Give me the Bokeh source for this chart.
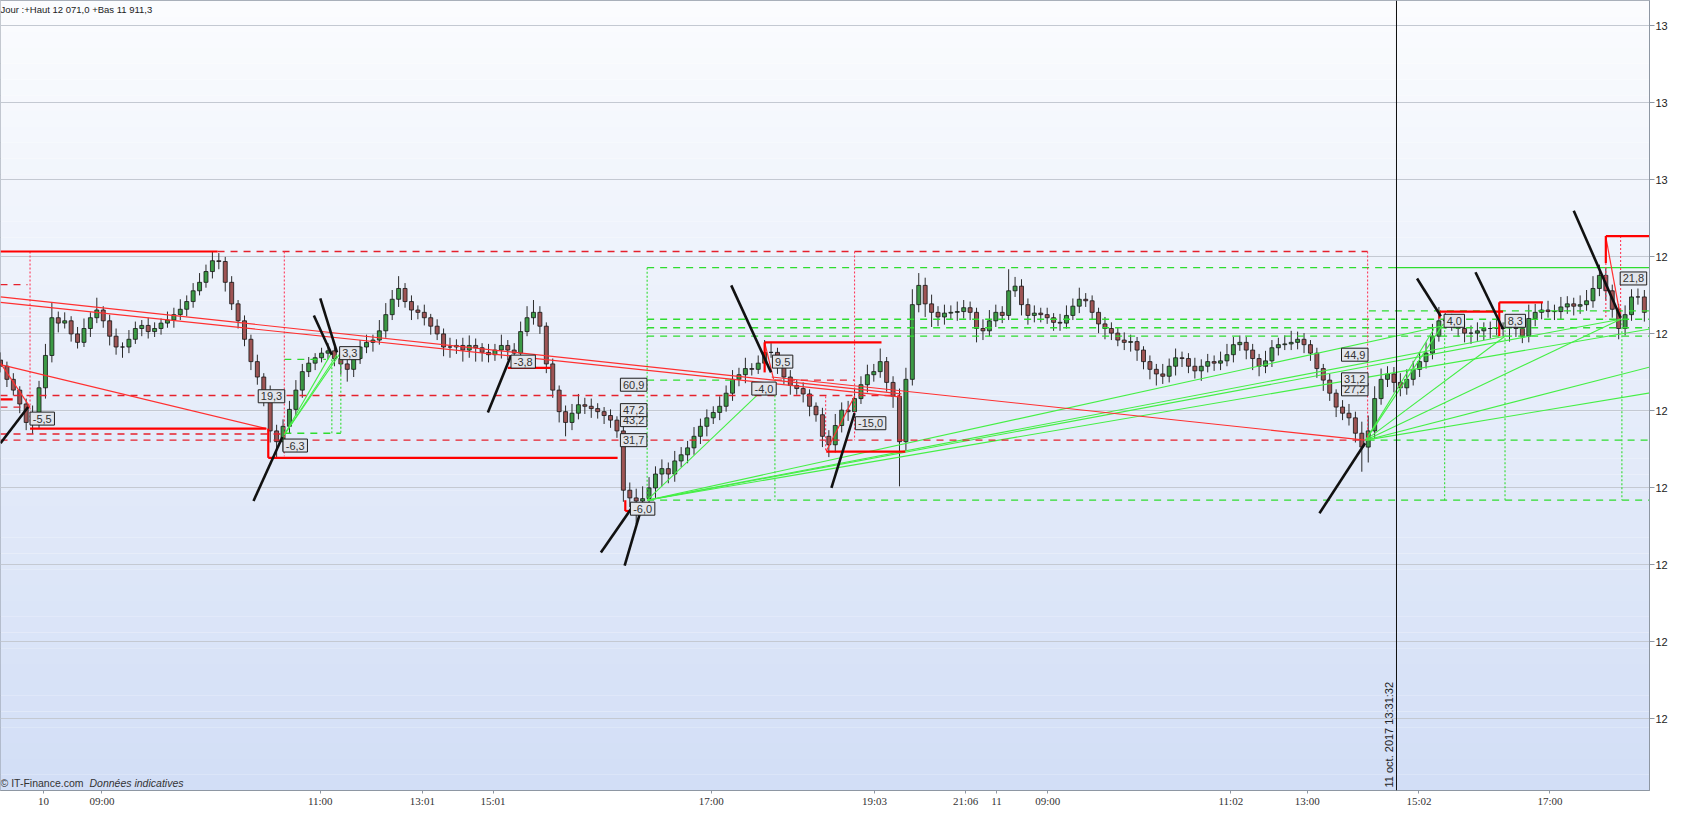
import math
from bokeh.plotting import figure
from bokeh.models import Range1d, FixedTicker, Label, Span
from bokeh.core.properties import value
from bokeh.embed import file_html
from bokeh.resources import INLINE

# ---------------- data ----------------
first_open = 12976.6
close = [
 12975.8, 12974.1, 12972.7, 12970.9, 12968.5, 12969.5, 12973.0, 12977.2, 12982.1, 12981.4,
 12981.7, 12980.0, 12978.9, 12980.7, 12982.1, 12983.1, 12981.7, 12979.7, 12978.3, 12978.3,
 12979.3, 12980.7, 12981.1, 12980.3, 12980.7, 12981.4, 12981.8, 12982.5, 12983.2, 12984.2,
 12985.6, 12986.7, 12988.1, 12989.5, 12989.4, 12986.7, 12983.9, 12981.7, 12979.3, 12976.4,
 12974.4, 12971.9, 12967.4, 12966.0, 12968.0, 12970.2, 12972.7, 12975.1, 12976.2, 12976.9,
 12977.5, 12977.8, 12976.8, 12976.1, 12975.4, 12976.8, 12978.3, 12978.9, 12979.2, 12980.4,
 12982.5, 12984.5, 12985.9, 12984.2, 12983.1, 12982.8, 12982.1, 12981.0, 12980.0, 12978.3,
 12978.3, 12978.5, 12977.9, 12978.5, 12978.2, 12977.6, 12977.3, 12977.9, 12978.5, 12977.9,
 12977.5, 12980.3, 12982.1, 12982.8, 12981.0, 12976.1, 12972.7, 12969.9, 12968.5, 12969.7,
 12970.8, 12970.6, 12970.3, 12969.9, 12969.4, 12968.8, 12967.4, 12959.7, 12958.7, 12958.3,
 12958.6, 12960.0, 12961.8, 12962.5, 12961.8, 12963.5, 12964.3, 12965.2, 12966.7, 12968.0,
 12969.1, 12969.8, 12970.6, 12972.3, 12974.1, 12974.7, 12975.5, 12975.4, 12976.2, 12977.6,
 12977.6, 12975.8, 12974.4, 12973.3, 12972.9, 12972.2, 12970.6, 12969.5, 12966.7, 12965.6,
 12968.1, 12970.1, 12969.9, 12971.6, 12973.4, 12974.7, 12975.1, 12976.4, 12973.7, 12971.9,
 12966.0, 12974.1, 12983.8, 12986.3, 12983.9, 12982.8, 12982.2, 12982.7, 12982.8, 12982.9,
 12983.4, 12982.8, 12980.7, 12980.4, 12981.7, 12982.8, 12982.4, 12985.6, 12986.2, 12983.8,
 12982.4, 12982.7, 12982.5, 12982.1, 12981.5, 12981.4, 12982.4, 12983.6, 12984.5, 12984.3,
 12982.8, 12981.3, 12980.7, 12980.1, 12979.2, 12978.9, 12979.0, 12977.9, 12976.4, 12975.4,
 12974.8, 12974.5, 12975.8, 12976.9, 12976.8, 12975.8, 12975.2, 12975.8, 12976.4, 12976.2,
 12976.5, 12977.3, 12978.6, 12978.9, 12977.9, 12976.8, 12975.8, 12976.5, 12978.2, 12978.6,
 12978.7, 12978.9, 12979.3, 12978.6, 12977.5, 12975.5, 12974.0, 12972.3, 12970.5, 12969.7,
 12969.1, 12967.1, 12965.3, 12967.4, 12971.6, 12974.1, 12974.8, 12973.7, 12973.0, 12974.1,
 12975.4, 12976.4, 12977.5, 12979.7, 12981.7, 12981.8, 12981.3, 12980.7, 12980.1, 12980.1,
 12980.4, 12980.7, 12980.7, 12980.7, 12980.8, 12981.0, 12980.7, 12979.7, 12982.0, 12982.8,
 12983.1, 12982.9, 12982.9, 12983.5, 12983.9, 12983.6, 12983.8, 12984.3, 12985.9, 12987.6,
 12985.6, 12983.2, 12980.7, 12982.5, 12984.8, 12984.8, 12982.8,
]
wick_up = [
 1.0, 0.6, 0.8, 0.5, 0.7, 1.2, 0.9, 1.5, 2.0, 0.8,  1.1, 0.6, 0.9, 1.3, 0.7, 1.6, 0.5, 0.8, 1.0, 0.6,
 1.2, 0.9, 0.7, 1.0, 0.8, 0.6, 1.1, 0.9, 1.3, 0.8,  1.0, 1.2, 0.9, 1.2, 1.0, 0.6, 0.8, 0.5, 0.7, 0.6,
 0.9, 0.5, 1.4, 0.8, 0.9, 1.1, 1.3, 1.0, 0.8, 0.6,  0.7, 1.0, 0.5, 0.8, 0.6, 1.2, 0.9, 1.0, 0.7, 1.4,
 1.5, 1.2, 1.6, 0.7, 0.8, 0.6, 1.0, 0.5, 0.9, 0.7,  1.2, 0.8, 1.0, 1.3, 0.9, 0.6, 1.1, 0.8, 1.4, 0.7,
 0.9, 1.3, 1.5, 1.6, 0.8, 0.5, 0.7, 0.6, 0.8, 1.2,  1.4, 0.9, 1.0, 0.7, 0.6, 0.8, 0.5, 0.9, 1.0, 1.2,
 1.6, 1.4, 1.0, 1.2, 0.8, 1.3, 1.0, 0.9, 1.2, 1.0,  1.1, 0.8, 1.3, 1.0, 1.2, 0.9, 1.4, 0.7, 1.0, 1.6,
 1.2, 0.6, 0.8, 0.9, 0.7, 0.8, 0.6, 0.5, 0.9, 0.8,  1.5, 1.0, 1.2, 1.4, 1.1, 1.3, 1.0, 1.7, 0.6, 0.8,
 1.0, 1.5, 2.0, 1.6, 1.0, 1.2, 0.8, 1.1, 0.9, 1.3,  1.0, 0.8, 0.6, 1.2, 1.4, 1.0, 0.8, 2.8, 1.2, 0.9,
 0.8, 1.0, 0.7, 0.9, 0.6, 1.1, 1.3, 1.0, 1.5, 0.8,  0.7, 0.6, 0.9, 0.8, 0.7, 1.0, 0.9, 0.6, 0.5, 0.8,
 0.7, 1.3, 1.0, 1.2, 0.8, 0.7, 1.1, 0.9, 1.0, 0.8,  1.2, 1.4, 1.0, 0.9, 0.7, 0.8, 0.6, 1.3, 1.0, 0.9,
 1.1, 1.5, 1.0, 0.8, 0.6, 0.7, 0.6, 0.8, 0.5, 0.9,  1.2, 0.8, 1.5, 2.0, 1.6, 1.4, 1.0, 0.9, 1.2, 1.3,
 1.1, 1.2, 1.4, 1.6, 1.8, 0.9, 0.8, 0.7, 0.9, 1.0,  1.1, 0.8, 0.9, 1.2, 0.7, 1.3, 0.8, 0.9, 1.8, 1.1,
 1.0, 1.2, 0.9, 1.3, 1.0, 0.8, 1.2, 1.4, 1.6, 1.4,  1.0, 0.8, 0.7, 1.2, 1.0, 1.1, 0.9,
]
wick_dn = [
 0.8, 1.0, 0.7, 1.2, 1.0, 1.5, 1.8, 1.4, 0.9, 1.2,  0.7, 1.0, 0.8, 0.6, 1.1, 0.7, 0.9, 1.2, 1.0, 1.4,
 0.8, 0.6, 1.0, 0.9, 0.7, 0.8, 0.6, 1.0, 0.7, 0.9,  0.8, 0.6, 0.7, 0.9, 1.0, 1.2, 0.8, 1.0, 0.9, 1.1,
 1.0, 1.3, 1.5, 2.2, 1.2, 0.9, 0.8, 1.0, 0.7, 0.9,  0.6, 0.8, 1.0, 1.4, 1.6, 1.0, 0.7, 0.8, 1.2, 0.6,
 0.9, 0.7, 1.0, 0.8, 1.3, 0.9, 1.0, 1.1, 0.8, 1.2,  1.4, 0.9, 1.5, 1.0, 1.8, 1.2, 1.0, 0.8, 1.1, 1.3,
 1.5, 0.8, 0.6, 0.9, 1.0, 1.2, 1.0, 1.4, 1.8, 1.0,  0.8, 1.0, 1.2, 0.9, 1.1, 1.0, 0.9, 1.5, 1.2, 3.0,
 1.5, 1.0, 1.3, 1.6, 1.2, 1.0, 0.8, 1.1, 0.9, 1.0,  1.3, 0.8, 1.0, 0.7, 1.0, 0.9, 1.1, 0.8, 0.6, 0.9,
 0.7, 1.0, 0.9, 1.2, 0.8, 1.1, 1.3, 0.9, 1.4, 1.6,  1.0, 0.9, 1.2, 0.8, 0.7, 1.0, 0.9, 0.8, 1.2, 1.5,
 5.8, 1.2, 0.8, 1.0, 1.7, 1.9, 1.2, 1.0, 0.8, 1.1,  0.9, 1.0, 1.8, 1.2, 0.7, 0.8, 1.0, 0.6, 0.8, 1.4,
 1.2, 0.9, 1.0, 0.8, 1.1, 1.0, 0.7, 0.6, 0.9, 0.8,  1.0, 1.2, 1.4, 0.9, 0.8, 1.0, 1.2, 1.4, 1.0, 1.3,
 1.5, 1.0, 0.8, 1.2, 1.1, 0.9, 1.0, 1.3, 0.8, 1.0,  0.9, 0.7, 1.0, 0.8, 1.2, 1.5, 1.3, 0.9, 0.8, 1.0,
 0.7, 0.8, 0.9, 1.1, 1.0, 1.2, 1.4, 1.0, 1.3, 0.9,  1.0, 1.2, 3.2, 2.0, 1.0, 0.8, 1.0, 1.3, 1.1, 0.9,
 0.8, 1.0, 0.9, 0.8, 0.7, 1.0, 0.9, 1.1, 1.2, 1.4,  1.0, 1.2, 1.3, 0.9, 1.0, 1.8, 1.1, 0.9, 0.8, 1.0,
 0.9, 0.8, 1.1, 1.0, 0.9, 1.2, 1.0, 0.8, 0.9, 1.0,  1.3, 1.1, 1.4, 0.9, 0.8, 1.0, 1.2,
]

x_tick_pos = [6.7, 15.8, 49.8, 65.7, 76.7, 110.7, 136.1, 150.3, 155.1, 163.1, 191.6, 203.5, 220.9, 241.3]
x_tick_labels = ["10", "09:00", "11:00", "13:01", "15:01", "17:00", "19:03", "21:06", "11",
                 "09:00", "11:02", "13:00", "15:02", "17:00"]
y_tick_vals = [12930, 12940, 12950, 12960, 12970, 12980, 12990, 13000, 13010, 13020]
y_tick_labels = ["12", "12", "12", "12", "12", "12", "12", "13", "13", "13"]

header_text = "Jour :+Haut 12 071,0 +Bas 11 911,3"
copyright_text = "© IT-Finance.com"
disclaimer_text = "Données indicatives"
cursor_bar = 217.4
cursor_text = "11 oct. 2017 13:31:32"

# drawing-tool objects (bar index, price)
red_thick = [
 (0, 12990.7, 33.8, 12990.7), (0, 12971.5, 1.9, 12971.5), (4.6, 12967.7, 41.4, 12967.7),
 (41.7, 12963.9, 96.1, 12963.9), (41.7, 12967.7, 41.7, 12963.9), (79.0, 12975.6, 85.7, 12975.6),
 (97.3, 12957.0, 100.0, 12957.0), (97.3, 12958.4, 97.3, 12957.0), (119.0, 12978.9, 137.2, 12978.9),
 (119.0, 12978.9, 119.0, 12975.0), (128.6, 12964.7, 140.9, 12964.7), (250.0, 12992.7, 258.7, 12992.7),
 (250.0, 12992.7, 250.0, 12989.2), (224.1, 12982.9, 234.0, 12982.9), (224.1, 12982.9, 224.1, 12982.0),
 (233.4, 12984.1, 240.2, 12984.1), (233.4, 12984.1, 233.4, 12979.7),
]
red_thin = [
 (0, 12984.8, 140.3, 12972.2), (0, 12984.1, 140.3, 12971.8), (0, 12976.0, 41.4, 12967.7),
 (0, 12976.2, 4.6, 12970.5), (120.1, 12974.4, 212.5, 12966.2), (119.0, 12978.9, 120.4, 12974.1),
 (128.6, 12964.8, 133.0, 12971.9), (250.0, 12992.6, 252.3, 12982.1),
]
red_dash = [
 (33.8, 12990.7, 212.9, 12990.7), (0, 12986.4, 4.2, 12986.4), (0, 12972.0, 140.0, 12972.0),
 (0, 12967.0, 44.2, 12967.0), (0, 12966.2, 212.6, 12966.2), (0, 12970.5, 4.6, 12970.5),
 (120.6, 12974.0, 133.0, 12974.0),
]
red_dot = [
 (4.6, 12990.7, 4.6, 12968.3), (44.2, 12990.7, 44.2, 12964.1), (133.0, 12990.7, 133.0, 12966.2),
 (128.5, 12971.9, 128.5, 12964.8), (212.9, 12990.7, 212.9, 12966.2), (252.3, 12992.7, 252.3, 12981.9),
 (250.0, 12989.2, 250.0, 12981.9),
]
green_dash = [
 (44.2, 12976.7, 50.7, 12976.7), (44.2, 12967.1, 53.0, 12967.1), (100.7, 12988.6, 217.0, 12988.6),
 (100.7, 12981.9, 258.7, 12981.9), (100.7, 12980.8, 258.7, 12980.8), (100.7, 12979.7, 258.7, 12979.7),
 (213.1, 12983.0, 258.7, 12983.0), (100.7, 12974.0, 114.2, 12974.0), (100.7, 12958.4, 258.7, 12958.4),
 (212.9, 12966.2, 258.7, 12966.2),
]
green_solid = [(217.0, 12988.6, 258.7, 12988.6)]
green_dot = [
 (100.7, 12988.6, 100.7, 12958.4), (51.6, 12976.7, 51.6, 12967.1), (53.0, 12977.3, 53.0, 12967.1),
 (120.6, 12974.1, 120.6, 12958.4), (224.9, 12981.0, 224.9, 12958.4), (234.3, 12981.5, 234.3, 12958.4),
 (252.5, 12981.9, 252.5, 12958.4),
]
green_fan = [
 (100.7, 12958.4, 118.3, 12972.4), (100.7, 12958.4, 224.3, 12981.0), (100.7, 12958.4, 234.3, 12979.7),
 (100.7, 12958.4, 252.3, 12981.9), (100.7, 12958.4, 258.7, 12980.9),
 (212.6, 12966.2, 223.2, 12980.6), (212.6, 12966.2, 224.7, 12981.3), (212.6, 12966.2, 234.3, 12979.7),
 (212.6, 12966.2, 252.3, 12981.9), (212.6, 12966.2, 258.7, 12976.1), (212.6, 12966.2, 258.7, 12972.6),
 (44.2, 12966.9, 51.6, 12977.6), (44.2, 12966.9, 53.0, 12977.6), (44.2, 12966.9, 52.4, 12977.3),
]
black_arrows = [
 (0, 12965.8, 4.3, 12970.5), (39.4, 12958.3, 43.9, 12966.6), (48.8, 12982.4, 51.6, 12977.3),
 (49.8, 12984.6, 52.4, 12977.6), (75.9, 12969.8, 79.5, 12977.2), (93.5, 12951.6, 98.3, 12957.4),
 (97.2, 12949.9, 100.0, 12957.9), (113.8, 12986.3, 120.0, 12975.0), (129.4, 12960.0, 133.0, 12969.7),
 (205.4, 12956.7, 212.5, 12965.8), (220.6, 12987.2, 224.3, 12982.3), (229.7, 12988.0, 234.0, 12980.6),
 (245.0, 12996.0, 252.3, 12982.1),
]
tag_text = ["-5,5", "19,3", "-6,3", "3,3", "-3,8", "60,9", "43,2", "47,2", "31,7", "-6,0",
            "-4,0", "9,5", "-15,0", "44,9", "27,2", "31,2", "4,0", "8,3", "21,8"]
tag_x = [6.5, 42.2, 45.9, 54.4, 81.4, 98.6, 98.6, 98.6, 98.6, 100.0,
         118.9, 121.8, 135.5, 210.9, 210.9, 210.9, 226.4, 235.9, 254.3]
tag_y = [12969.0, 12971.9, 12965.5, 12977.5, 12976.4, 12973.4, 12968.8, 12970.1, 12966.2, 12957.3,
         12972.9, 12976.4, 12968.4, 12977.3, 12972.8, 12974.1, 12981.7, 12981.7, 12987.2]

# ---------------- figure ----------------
Y0, Y1 = 12920.7, 13023.3
X0, X1 = 0.0, 256.8
p = figure(width=1670, height=809, x_range=Range1d(X0, X1), y_range=Range1d(Y0, Y1),
           y_axis_location="right", output_backend="svg", toolbar_location=None,
           min_border=0, border_fill_color="white")
p.outline_line_color = "#8e97a3"

# background gradient
nb = 50
top_rgb, bot_rgb = (251, 252, 254), (210, 222, 246)
bb, bt, bc = [], [], []
for k in range(nb):
    t = (k + 0.5) / nb
    bb.append(Y0 + (Y1 - Y0) * k / nb)
    bt.append(Y0 + (Y1 - Y0) * (k + 1) / nb)
    r = round(bot_rgb[0] + (top_rgb[0] - bot_rgb[0]) * t)
    g = round(bot_rgb[1] + (top_rgb[1] - bot_rgb[1]) * t)
    b = round(bot_rgb[2] + (top_rgb[2] - bot_rgb[2]) * t)
    bc.append("#%02x%02x%02x" % (r, g, b))
p.quad(left=[-5] * nb, right=[265] * nb, bottom=bb, top=bt, fill_color=bc, line_color=None, level="image")

p.xgrid.visible = False
p.ygrid.ticker = FixedTicker(ticks=y_tick_vals)
p.ygrid.grid_line_color = "#c4c9d2"
p.ygrid.grid_line_width = 1

# candles
idx = list(range(len(close)))
opens = [first_open] + close[:-1]
highs = [max(o, c) + u for o, c, u in zip(opens, close, wick_up)]
lows = [min(o, c) - d for o, c, d in zip(opens, close, wick_dn)]
body_top = [max(o, c) for o, c in zip(opens, close)]
body_bot = [min(o, c) for o, c in zip(opens, close)]
body_col = ["#3c9a45" if c >= o else "#9e5454" for o, c in zip(opens, close)]
p.segment(idx, highs, idx, lows, line_color="#2b2b2b", line_width=1)
p.vbar(x=idx, width=0.62, top=body_top, bottom=body_bot, fill_color=body_col,
       line_color="#151515", line_width=0.8)


def seg(items, color, width, dash="solid"):
    p.segment([s[0] for s in items], [s[1] for s in items], [s[2] for s in items], [s[3] for s in items],
              line_color=color, line_width=width, line_dash=dash)


seg(green_dash, "#2fdc2f", 1.3, "7 6")
seg(green_dot, "#2fdc2f", 1.1, "2 2")
seg(green_solid, "#2fdc2f", 1.3)
seg(green_fan, "#45ef45", 1.1)
seg(red_dash, "#e5212c", 1.3, "7 6")
seg(red_dot, "#ff3a5a", 1.1, "2 2")
seg(red_thin, "#ff3030", 1.2)
seg(red_thick, "#ff0000", 2.2)
seg(black_arrows, "#111111", 2.6)


def text_px(s):
    w = 0.0
    for ch in s:
        w += 3.2 if ch == "," else (4.0 if ch == "-" else 6.1)
    return w + 5


# value tags (box + text, drawn one by one so later ones cover earlier ones)
for tx, ty, tt in zip(tag_x, tag_y, tag_text):
    p.rect(x=[tx], y=[ty], width=[text_px(tt)], height=[13], width_units="screen",
           height_units="screen", fill_color="#e2e5ec", line_color="#1e1e1e", line_width=1)
    p.text(x=[tx], y=[ty], text=[tt], text_align="center", text_baseline="middle",
           text_font=value("Liberation Sans"), text_font_size=value("11px"), text_color="#333333")

# cursor
p.add_layout(Span(location=cursor_bar, dimension="height", line_color="#101010", line_width=1))
p.add_layout(Label(x=cursor_bar - 0.2, y=Y0, y_offset=3, text=cursor_text, angle=math.pi / 2,
                   text_align="left", text_baseline="bottom", text_font="Liberation Sans",
                   text_font_size="11px", text_color="#222222"))

# texts
p.add_layout(Label(x=X0, y=Y1, y_offset=-3, text=header_text, text_align="left", text_baseline="top",
                   text_font="Liberation Sans", text_font_size="9.5px", text_color="#222222"))
p.add_layout(Label(x=X0, y=Y0, y_offset=2, text=copyright_text, text_align="left", text_baseline="bottom",
                   text_font="Liberation Sans", text_font_size="10.5px", text_color="#333333"))
p.add_layout(Label(x=X0, y=Y0, x_offset=89, y_offset=2, text=disclaimer_text, text_align="left",
                   text_baseline="bottom", text_font="Liberation Sans", text_font_size="10.5px",
                   text_font_style="italic", text_color="#333333"))

# axes
xa = p.xaxis[0]
xa.ticker = FixedTicker(ticks=x_tick_pos)
xa.major_label_overrides = {v: s for v, s in zip(x_tick_pos, x_tick_labels)}
xa.major_label_text_font = "Liberation Sans Narrow"
xa.major_label_text_font_size = "11px"
xa.major_label_text_color = "#333333"
xa.axis_line_color = "#8e97a3"
xa.major_tick_line_color = "#8e97a3"
xa.major_tick_out = 3
xa.major_tick_in = 0
xa.minor_tick_line_color = None
xa.major_label_standoff = 1

ya = p.yaxis[0]
ya.ticker = FixedTicker(ticks=y_tick_vals)
ya.major_label_overrides = {v: s for v, s in zip(y_tick_vals, y_tick_labels)}
ya.major_label_text_font = "Liberation Sans"
ya.major_label_text_font_size = "11px"
ya.major_label_text_color = "#222222"
ya.axis_line_color = "#8e97a3"
ya.major_tick_line_color = "#8e97a3"
ya.major_tick_out = 5
ya.major_tick_in = 0
ya.minor_tick_line_color = None
ya.major_label_standoff = 1

open("out.html", "w").write(file_html(p, INLINE))
